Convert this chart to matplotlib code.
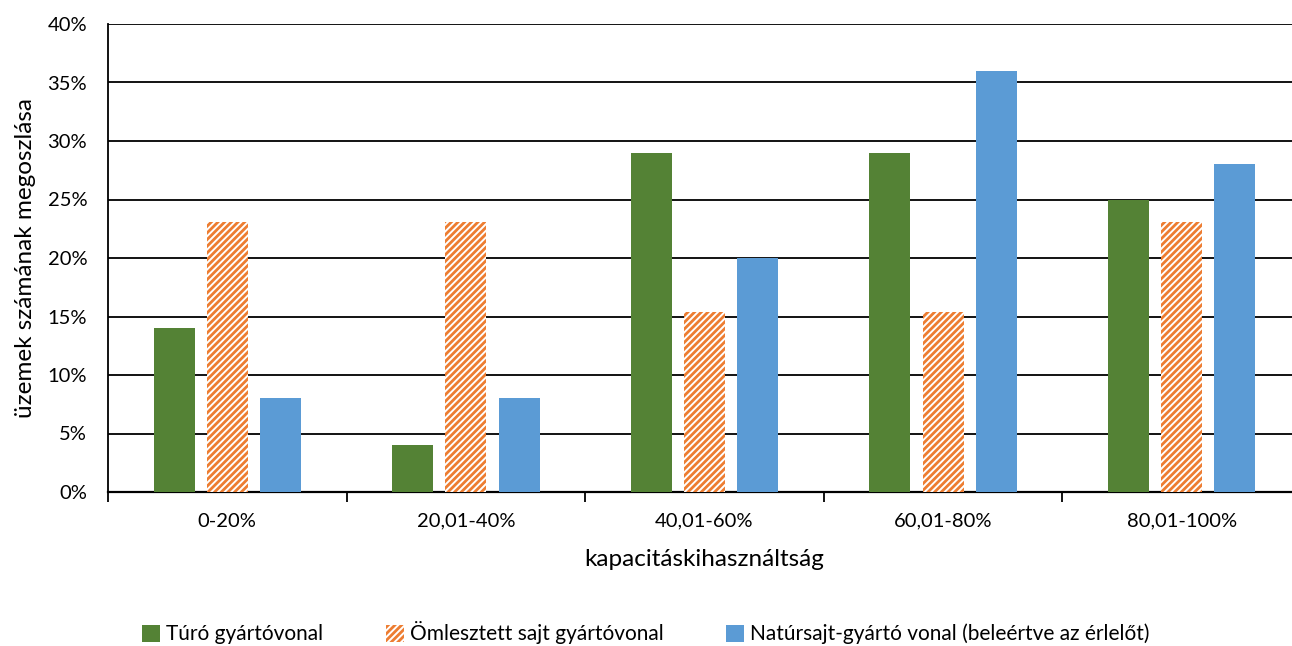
import matplotlib
matplotlib.use("Agg")
import matplotlib.pyplot as plt
import numpy as np
from matplotlib.ticker import FixedLocator, PercentFormatter

categories = ["0-20%", "20,01-40%", "40,01-60%", "60,01-80%", "80,01-100%"]
turo = [14, 4, 29, 29, 25]
omlesztett = [23.08, 23.08, 15.38, 15.38, 23.08]
natur = [8, 8, 20, 36, 28]
series_names = ["Túró gyártóvonal", "Ömlesztett sajt gyártóvonal",
                "Natúrsajt-gyártó vonal (beleértve az érlelőt)"]
yticks = [0, 5, 10, 15, 20, 25, 30, 35, 40]

plt.rcParams['font.family'] = ['Lato', 'DejaVu Sans']
plt.rcParams['hatch.linewidth'] = 2.0

fig = plt.figure(figsize=(12.92, 6.46), dpi=100)
ax = fig.add_axes([108/1292, 1-492/646, (1301-108)/1292, (492-24)/646])

x = np.arange(len(categories))
w = 0.172
step = 0.223
green = "#548235"
orange = "#ED7D31"
blue = "#5B9BD5"

b1 = ax.bar(x - step, turo, w, color=green, label=series_names[0], zorder=3)
b2 = ax.bar(x, omlesztett, w, color="white", edgecolor=orange, hatch="/////",
            linewidth=0, label=series_names[1], zorder=3)
b3 = ax.bar(x + step, natur, w, color=blue, label=series_names[2], zorder=3)

ax.set_xlim(-0.5, len(categories) - 0.5)
ax.set_ylim(0, 40)
ax.yaxis.set_major_locator(FixedLocator(yticks))
ax.yaxis.set_major_formatter(PercentFormatter(decimals=0))
ax.grid(axis='y', color='black', linewidth=1.3, zorder=0)
ax.set_axisbelow(True)

ax.set_xticks(x)
ax.set_xticklabels(categories)
ax.set_xticks(np.arange(len(categories) + 1) - 0.5, minor=True)
ax.tick_params(axis='x', which='major', length=0, pad=15, labelsize=14.5)
ax.tick_params(axis='x', which='minor', length=7, width=1.3, direction='out')
ax.tick_params(axis='y', length=0, pad=15, labelsize=14.5)

for s in ['top', 'right']:
    ax.spines[s].set_visible(False)
ax.spines['left'].set_linewidth(1.3)
ax.spines['bottom'].set_linewidth(1.6)

ax.set_xlabel("kapacitáskihasználtság", fontsize=17.5, labelpad=14)
ax.set_ylabel("üzemek számának megoszlása", fontsize=17.5, labelpad=8)

leg = fig.legend(handles=[b1, b2, b3], loc='center', bbox_to_anchor=(0.5, 1-633/646),
                 ncol=3, frameon=False, fontsize=15, handlelength=0.85, handleheight=0.85,
                 handletextpad=0.3, columnspacing=3.0)

fig.savefig("out.png", dpi=100)
